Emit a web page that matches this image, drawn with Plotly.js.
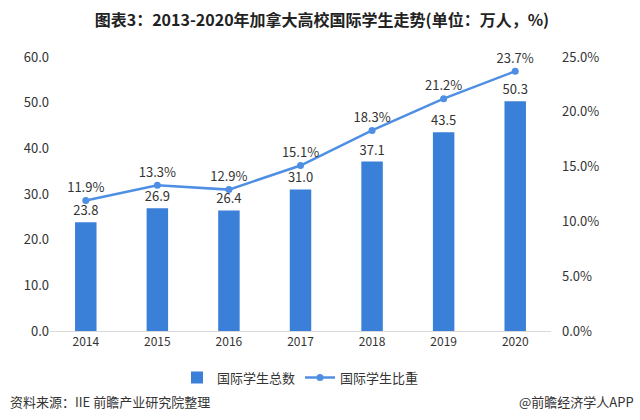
<!DOCTYPE html>
<html>
<head>
<meta charset="utf-8">
<script src="https://cdn.plot.ly/plotly-3.0.1.min.js"></script>
<style>html,body{margin:0;padding:0;background:#fff;}#chart{width:640px;height:420px;}</style>
</head>
<body>
<div id="chart"></div>
<script>
const years = ['2014','2015','2016','2017','2018','2019','2020'];
const totalStudents = [23.8, 26.9, 26.4, 31.0, 37.1, 43.5, 50.3];
const shareStudents = [11.9, 13.3, 12.9, 15.1, 18.3, 21.2, 23.7];
const leftTicks = [0, 10, 20, 30, 40, 50, 60];
const rightTicks = [0, 5, 10, 15, 20, 25];

const FONT = '"Noto Sans CJK SC", "Noto Sans", sans-serif';

const traces = [
  {
    type: 'bar',
    name: '国际学生总数',
    x: years,
    y: totalStudents,
    marker: {color: '#3a7fd8'},
    text: totalStudents.map(v => v.toFixed(1)),
    textposition: 'outside',
    constraintext: 'none',
    textfont: {size: 13, color: '#333', family: FONT},
    cliponaxis: false,
    yaxis: 'y'
  },
  {
    type: 'scatter',
    mode: 'lines+markers+text',
    name: '国际学生比重',
    x: years,
    y: shareStudents,
    line: {color: '#4f8fe3', width: 2.5},
    marker: {color: '#4f8fe3', size: 7},
    text: shareStudents.map(v => v.toFixed(1) + '%'),
    textposition: 'top center',
    textfont: {size: 13, color: '#333', family: FONT},
    cliponaxis: false,
    yaxis: 'y2'
  }
];

const layout = {
  width: 640, height: 420,
  margin: {l: 50, r: 89, t: 57, b: 89},
  paper_bgcolor: '#fff', plot_bgcolor: '#fff',
  font: {family: FONT, color: '#333', size: 12},
  title: {
    text: '<b>图表3：2013-2020年加拿大高校国际学生走势(单位：万人，%)</b>',
    font: {size: 16, color: '#222', family: FONT},
    x: 0.503, xanchor: 'center', y: 0.952, yanchor: 'middle'
  },
  bargap: 0.7,
  showlegend: true,
  legend: {
    orientation: 'h', x: 0.5, xanchor: 'center', y: -0.17, yanchor: 'middle',
    font: {size: 13, color: '#333', family: FONT}
  },
  xaxis: {
    type: 'category',
    showline: true, linecolor: '#d9d9d9', linewidth: 1,
    ticks: '', showgrid: false,
    tickfont: {size: 12, color: '#333'}
  },
  yaxis: {
    range: [0, 60], tickvals: leftTicks,
    ticktext: leftTicks.map(v => v.toFixed(1)),
    showgrid: false, zeroline: false, showline: false, ticks: '',
    tickfont: {size: 13, color: '#333'}
  },
  yaxis2: {
    overlaying: 'y', side: 'right', range: [0, 25],
    tickvals: rightTicks, ticktext: rightTicks.map(v => v.toFixed(1) + '%'),
    showgrid: false, zeroline: false, showline: false, ticks: '',
    ticklabelstandoff: 10,
    tickfont: {size: 13, color: '#333'}
  },
  annotations: [
    {
      text: '资料来源：IIE 前瞻产业研究院整理', xref: 'paper', yref: 'paper',
      x: -0.084, y: -0.259, xanchor: 'left', yanchor: 'middle', showarrow: false,
      font: {size: 13, color: '#333', family: FONT}
    },
    {
      text: '@前瞻经济学人APP', xref: 'paper', yref: 'paper',
      x: 1.17, y: -0.259, xanchor: 'right', yanchor: 'middle', showarrow: false,
      font: {size: 13, color: '#333', family: FONT}
    }
  ]
};

Plotly.newPlot('chart', traces, layout, {displayModeBar: false, staticPlot: true});
</script>
</body>
</html>
